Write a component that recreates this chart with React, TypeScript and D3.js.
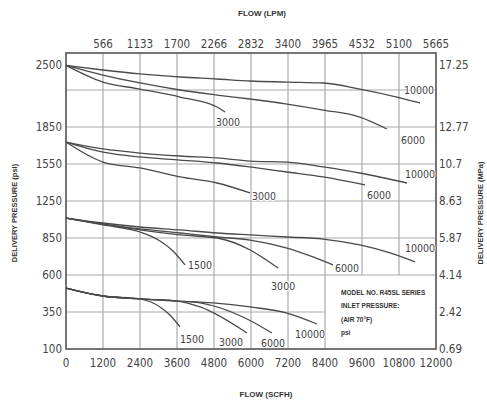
import React from "react";
import * as d3 from "d3";

// ---- Data (SCFH flow, psi delivery pressure) ----
const flowTicks = [0, 1200, 2400, 3600, 4800, 6000, 7200, 8400, 9600, 10800, 12000];
const lpmTicks = ["566", "1133", "1700", "2266", "2832", "3400", "3965", "4532", "5100", "5665"];
const psiTicks = [2500, 1850, 1550, 1250, 850, 600, 350, 100];
const mpaTicks = ["17.25", "12.77", "10.7", "8.63", "5.87", "4.14", "2.42", "0.69"];
const psiBreaks = [100, 350, 600, 850, 1250, 1550, 1850, 2630];
const gridPsi = [350, 600, 850, 1250, 1550, 1850, 2240];

// Inlet 2500 psi
const in2500_10000: [number, number][] = [[0, 2500], [1200, 2451], [2400, 2409], [3700, 2377], [4900, 2356], [5970, 2335], [7170, 2324], [8340, 2314], [9530, 2250], [10730, 2166], [11480, 2103]];
const in2500_6000: [number, number][] = [[0, 2500], [1200, 2398], [2400, 2314], [3700, 2240], [4900, 2187], [5970, 2145], [7170, 2092], [8340, 2029], [9530, 1955], [10410, 1834]];
const in2500_3000: [number, number][] = [[0, 2500], [1200, 2324], [2400, 2250], [3700, 2166], [4900, 2061], [5160, 2008]];
// Inlet 1850 psi
const in1850_10000: [number, number][] = [[0, 1728], [1200, 1672], [2400, 1639], [3700, 1615], [4900, 1599], [5970, 1574], [7170, 1566], [8340, 1526], [9530, 1477], [11060, 1396]];
const in1850_6000: [number, number][] = [[0, 1728], [1200, 1647], [2400, 1607], [3700, 1582], [4900, 1558], [5970, 1526], [7170, 1485], [8340, 1445], [9700, 1380]];
const in1850_3000: [number, number][] = [[0, 1728], [1200, 1566], [2400, 1518], [3700, 1445], [4900, 1396], [5970, 1315]];
// Inlet ~1100 psi
const in1100_10000: [number, number][] = [[0, 1066], [1200, 1012], [2400, 969], [3700, 937], [4900, 904], [5970, 883], [7170, 861], [8340, 843], [9530, 803], [10510, 749], [11320, 688]];
const in1100_6000: [number, number][] = [[0, 1066], [1200, 1001], [2400, 948], [3700, 904], [4900, 861], [5970, 836], [7170, 782], [8010, 722], [8660, 668]];
const in1100_3000: [number, number][] = [[0, 1066], [1200, 1001], [2400, 937], [3700, 883], [4900, 850], [5970, 769], [6450, 708], [6880, 647]];
const in1100_1500: [number, number][] = [[0, 1066], [1200, 991], [2400, 915], [3050, 830], [3470, 762], [3860, 668]];
// Inlet ~500 psi
const in500_10000: [number, number][] = [[0, 512], [1200, 458], [2400, 438], [3600, 424], [4770, 411], [5970, 384], [7170, 343], [8140, 269]];
const in500_6000: [number, number][] = [[0, 512], [1200, 458], [2400, 438], [3600, 424], [4350, 411], [5740, 316], [6680, 208]];
const in500_3000: [number, number][] = [[0, 512], [1200, 458], [2400, 438], [3600, 424], [4350, 384], [5870, 208]];
const in500_1500: [number, number][] = [[0, 512], [1200, 458], [2400, 438], [3050, 384], [3370, 330], [3700, 249]];

const curveNames = ["10000", "6000", "3000", "10000", "6000", "3000", "10000", "6000", "3000", "1500", "10000", "6000", "3000", "1500"];
const legendLines = ["MODEL NO. R45SL SERIES", "INLET PRESSURE:", "(AIR 70°F)", "psi"];

// ---- Layout / styles ----
const W = 487, H = 402;
const L = 66, R = 436, T = 53, B = 349;
// label offsets (dx, dy, anchor) relative to curve end
const labelOffsets: [number, number, string][] = [
  [-1, -12, "middle"], [26, 12, "middle"], [3, 11, "middle"],
  [13, -8, "middle"], [14, 11, "middle"], [2, 4, "start"],
  [5, -13, "middle"], [2, 4, "start"], [5, 19, "middle"], [3, 1, "start"],
  [-7, 11, "middle"], [1, 11, "middle"], [-16, 10, "middle"], [0, 13, "start"],
];

const narrow = "'Liberation Sans Narrow', 'DejaVu Sans Condensed', 'Arial Narrow', sans-serif";
const bold = "'Liberation Sans', Arial, sans-serif";

export default function App() {
  const x = d3.scaleLinear().domain([0, 12000]).range([L, R]);
  const step = (B - T) / 8;
  const y = d3.scaleLinear().domain(psiBreaks).range([0, 1, 2, 3, 4, 5, 6, 8].map((i) => B - i * step));
  const line = d3.line<[number, number]>().x((d) => x(d[0])).y((d) => y(d[1])).curve(d3.curveMonotoneX);

  const curves = [in2500_10000, in2500_6000, in2500_3000, in1850_10000, in1850_6000, in1850_3000,
    in1100_10000, in1100_6000, in1100_3000, in1100_1500, in500_10000, in500_6000, in500_3000, in500_1500];

  const boxX = x(8400), boxY = y(600);
  const gridColor = "#aaaaaa";

  return (
    <svg width={W} height={H} style={{ position: "absolute", left: 0, top: 0, background: "#fff" }}>
      {/* vertical grid */}
      {flowTicks.slice(1, -1).map((v) => (
        <line key={"v" + v} x1={x(v)} x2={x(v)} y1={T} y2={x(v) > boxX + 1 ? boxY : B} stroke={gridColor} strokeWidth={1.2} />
      ))}
      {/* horizontal grid */}
      {gridPsi.map((p) => (
        <line key={"h" + p} x1={L} x2={y(p) > boxY + 1 ? boxX : R} y1={y(p)} y2={y(p)} stroke={gridColor} strokeWidth={1.2} />
      ))}
      {/* frame */}
      <rect x={L} y={T} width={R - L} height={B - T} fill="none" stroke="#666" strokeWidth={1.8} />

      {/* curves */}
      {curves.map((c, i) => (
        <path key={"c" + i} d={line(c) || ""} fill="none" stroke="#4a4a4a" strokeWidth={1.3} />
      ))}
      {curves.map((c, i) => {
        const e = c[c.length - 1];
        const [dx, dy, anchor] = labelOffsets[i];
        return (
          <text key={"l" + i} x={x(e[0]) + dx} y={y(e[1]) + dy} textAnchor={anchor} dominantBaseline="middle"
            fontFamily={narrow} fontSize={10.5} fill="#444" style={{ paintOrder: "stroke" }} stroke="#fff" strokeWidth={2}>
            {curveNames[i]}
          </text>
        );
      })}

      {/* left axis labels */}
      {psiTicks.map((p) => (
        <text key={"pl" + p} x={L - 4} y={y(p)} textAnchor="end" dominantBaseline="middle" fontFamily={narrow} fontSize={11.5} fill="#444">{p}</text>
      ))}
      {/* right axis labels */}
      {psiTicks.map((p, i) => (
        <text key={"pr" + p} x={R + 3} y={y(p)} textAnchor="start" dominantBaseline="middle" fontFamily={narrow} fontSize={11.5} fill="#444">{mpaTicks[i]}</text>
      ))}
      {/* bottom axis labels */}
      {flowTicks.map((v) => (
        <text key={"b" + v} x={x(v)} y={B + 14} textAnchor="middle" dominantBaseline="middle" fontFamily={narrow} fontSize={11.5} fill="#444">{v}</text>
      ))}
      {/* top axis labels */}
      {flowTicks.slice(1).map((v, i) => (
        <text key={"t" + v} x={x(v)} y={T - 9} textAnchor="middle" dominantBaseline="middle" fontFamily={narrow} fontSize={11.5} fill="#444">{lpmTicks[i]}</text>
      ))}

      {/* titles */}
      <text x={(L + R) / 2 + 11} y={14} textAnchor="middle" dominantBaseline="middle" fontFamily={bold} fontWeight="bold" fontSize={8} fill="#333">FLOW (LPM)</text>
      <text x={(L + R) / 2 + 15} y={395} textAnchor="middle" dominantBaseline="middle" fontFamily={bold} fontWeight="bold" fontSize={8} fill="#333">FLOW (SCFH)</text>
      <text transform={`translate(15,${(T + B) / 2 + 12}) rotate(-90)`} textAnchor="middle" dominantBaseline="middle" fontFamily={bold} fontWeight="bold" fontSize={7.5} fill="#333">DELIVERY PRESSURE (psi)</text>
      <text transform={`translate(481,${(T + B) / 2 + 12}) rotate(-90)`} textAnchor="middle" dominantBaseline="middle" fontFamily={bold} fontWeight="bold" fontSize={7.5} fill="#333">DELIVERY PRESSURE (MPa)</text>

      {/* legend box text */}
      {legendLines.map((t, i) => (
        <text key={"lg" + i} x={boxX + 16} y={boxY + 18 + i * 13.5} dominantBaseline="middle" fontFamily={bold} fontWeight="bold" fontSize={6.5} fill="#333">{t}</text>
      ))}
    </svg>
  );
}
